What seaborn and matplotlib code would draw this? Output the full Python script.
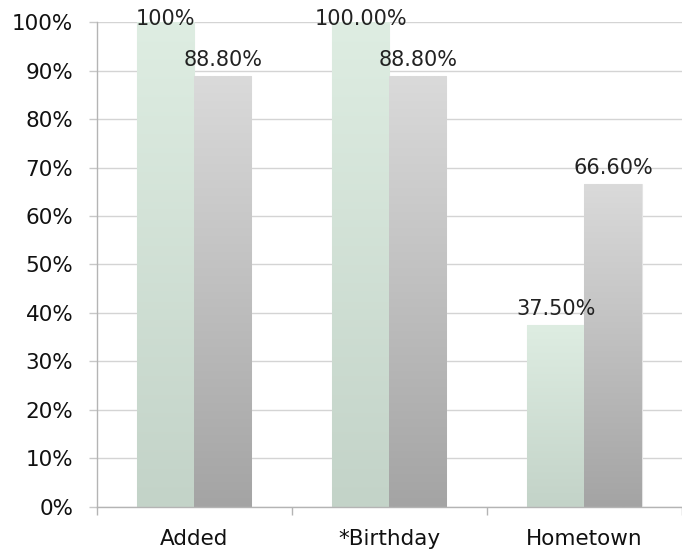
import numpy as np
import pandas as pd
import matplotlib
matplotlib.use("Agg")
import matplotlib.pyplot as plt
import seaborn as sns
from matplotlib.colors import LinearSegmentedColormap

# Chart data
categories = ["Added", "*Birthday", "Hometown"]
series_names = ["Series 1", "Series 2"]
series1 = [100.0, 100.0, 37.5]
series2 = [88.8, 88.8, 66.6]
labels1 = ["100%", "100.00%", "37.50%"]
labels2 = ["88.80%", "88.80%", "66.60%"]
yticks = list(range(0, 101, 10))
ytick_labels = [f"{v}%" for v in yticks]

df = pd.DataFrame({
    "category": categories * 2,
    "series": [series_names[0]] * len(categories) + [series_names[1]] * len(categories),
    "value": series1 + series2,
})

sns.set_theme(style="white")
plt.rcParams["font.family"] = ["DejaVu Sans"]

fig = plt.figure(figsize=(6.82, 5.51), dpi=100)
ax = fig.add_axes([0.142, 0.080, 0.858, 0.880])

sns.barplot(
    data=df, x="category", y="value", hue="series",
    order=categories, hue_order=series_names,
    palette=["#d5e6da", "#c0c0c0"], saturation=1,
    width=0.585, gap=0, legend=False, ax=ax,
)

# vertical gradients (dark bottom -> light top) per series
cmaps = [
    LinearSegmentedColormap.from_list("g", ["#c3d3c8", "#deede2"]),
    LinearSegmentedColormap.from_list("k", ["#a4a4a4", "#dadada"]),
]
grad = np.linspace(0, 1, 256).reshape(-1, 1)
label_sets = [labels1, labels2]
for cont, cmap, labs in zip(ax.containers, cmaps, label_sets):
    for patch, lab in zip(cont.patches, labs):
        x0 = patch.get_x()
        w = patch.get_width()
        h = patch.get_height()
        patch.set_facecolor("none")
        patch.set_edgecolor("#e4e4e4")
        patch.set_linewidth(0.8)
        ax.imshow(grad, extent=[x0, x0 + w, 0, h], origin="lower",
                  aspect="auto", cmap=cmap, zorder=2, interpolation="bilinear")
        off = 2 if h >= 100 else 11.5
        ax.annotate(lab, (x0 + w / 2, h), xytext=(0, off),
                    textcoords="offset points", ha="center", va="center",
                    fontsize=15, color="#222222", zorder=5,
                    annotation_clip=False)

ax.set_xlim(-0.5, 2.47)
ax.set_ylim(0, 100)
ax.set_yticks(yticks)
ax.set_yticklabels(ytick_labels)
ax.set_xlabel("")
ax.set_ylabel("")

ax.yaxis.grid(True, color="#d4d4d4", linewidth=1)
ax.set_axisbelow(True)

for s in ["top", "right"]:
    ax.spines[s].set_visible(False)
for s in ["left", "bottom"]:
    ax.spines[s].set_color("#b4b4b4")
    ax.spines[s].set_linewidth(1)

ax.tick_params(axis="y", which="major", left=True, length=6, width=1,
               color="#c8c8c8", pad=11, labelsize=15.5, labelcolor="#111111")
ax.tick_params(axis="x", which="major", bottom=False, length=0, pad=16,
               labelsize=15.5, labelcolor="#111111")
ax.set_xticks([-0.5, 0.5, 1.5, 2.5], minor=True)
ax.tick_params(axis="x", which="minor", bottom=True, length=6, width=1,
               color="#b4b4b4")

fig.savefig("out.png", dpi=100)
